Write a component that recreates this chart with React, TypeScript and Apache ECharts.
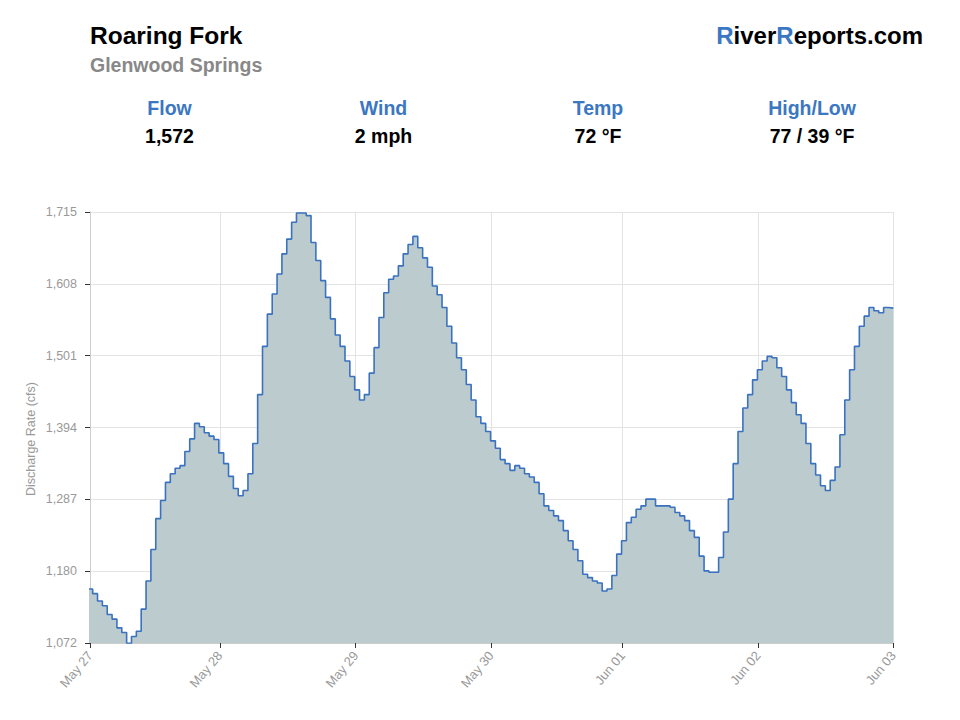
import React, { useEffect, useRef } from "react";
import * as echarts from "echarts";

// Hourly discharge readings (cfs)
const flow: number[] = [
  1153, 1146, 1135, 1128, 1115, 1108, 1095, 1088, 1072, 1082,
  1090, 1123, 1165, 1212, 1258, 1285, 1312, 1325, 1333, 1337,
  1358, 1377, 1400, 1395, 1386, 1381, 1376, 1356, 1340, 1321,
  1303, 1292, 1300, 1325, 1370, 1443, 1515, 1563, 1593, 1623,
  1653, 1675, 1700, 1714, 1714, 1710, 1670, 1643, 1613, 1588,
  1556, 1532, 1515, 1493, 1470, 1450, 1435, 1443, 1475, 1513,
  1558, 1595, 1615, 1620, 1635, 1653, 1667, 1679, 1662, 1647,
  1633, 1605, 1592, 1573, 1545, 1520, 1498, 1480, 1458, 1435,
  1410, 1400, 1388, 1374, 1363, 1346, 1340, 1330, 1337, 1333,
  1325, 1320, 1312, 1295, 1277, 1270, 1262, 1255, 1240, 1225,
  1212, 1195, 1175, 1170, 1165, 1162, 1150, 1153, 1173, 1205,
  1225, 1252, 1260, 1272, 1277, 1287, 1287, 1277, 1277, 1277,
  1275, 1267, 1262, 1255, 1240, 1230, 1202, 1180, 1178, 1178,
  1200, 1238, 1287, 1340, 1388, 1423, 1443, 1465, 1480, 1493,
  1500, 1498, 1483, 1470, 1450, 1431, 1413, 1400, 1370, 1340,
  1323, 1307, 1300, 1315, 1335, 1383, 1435, 1480, 1515, 1545,
  1560, 1573, 1568, 1565, 1573, 1572,
];

// x axis (hours since first reading)
const xMin = 0.45;
const xMax = 166;
const xTicks: number[] = [0.45, 27.2, 55.2, 83.1, 110.2, 138.1, 166];
const xLabels: string[] = ["May 27", "May 28", "May 29", "May 30", "Jun 01", "Jun 02", "Jun 03"];

// y axis
const yMin = 1072.4;
const yMax = 1715.4;
const yTicks: number[] = [1072.4, 1179.57, 1286.73, 1393.9, 1501.07, 1608.23, 1715.4];

// header
const riverName = "Roaring Fork";
const location = "Glenwood Springs";
const statLabels: string[] = ["Flow", "Wind", "Temp", "High/Low"];
const statValues: string[] = ["1,572", "2 mph", "72 °F", "77 / 39 °F"];
const statCenters: number[] = [169.5, 383.5, 598, 812];

const FONT = "'Liberation Sans', Arial, Helvetica, sans-serif";
const BLUE = "#3b77c2";

export default function App() {
  const ref = useRef<HTMLDivElement>(null);

  useEffect(() => {
    if (!ref.current) return;
    const chart = echarts.init(ref.current, undefined, { renderer: "svg" });

    const seriesData: number[][] = flow.map((v, i) => [i, v]);
    seriesData.push([flow.length, flow[flow.length - 1]]);

    const graphics: any[] = [
      {
        type: "text",
        left: 90,
        top: 23,
        style: { text: riverName, font: `bold 24.5px ${FONT}`, fill: "#000" },
      },
      {
        type: "text",
        left: 90,
        top: 55,
        style: { text: location, font: `bold 19.5px ${FONT}`, fill: "#888" },
      },
      {
        type: "text",
        right: 37,
        top: 23,
        style: {
          text: "{b|R}{k|iver}{b|R}{k|eports.com}",
          font: `bold 24px ${FONT}`,
          rich: {
            b: { fill: BLUE, font: `bold 24px ${FONT}` },
            k: { fill: "#000", font: `bold 24px ${FONT}` },
          },
        },
      },
      {
        type: "text",
        x: 31,
        y: 439,
        rotation: Math.PI / 2,
        style: {
          text: "Discharge Rate (cfs)",
          font: `12.5px ${FONT}`,
          fill: "#999",
          align: "center",
          verticalAlign: "middle",
        },
      },
    ];
    statLabels.forEach((lab, i) => {
      graphics.push({
        type: "text",
        x: statCenters[i],
        y: 108,
        style: {
          text: lab,
          font: `bold 19.5px ${FONT}`,
          fill: BLUE,
          align: "center",
          verticalAlign: "middle",
        },
      });
      graphics.push({
        type: "text",
        x: statCenters[i],
        y: 136,
        style: {
          text: statValues[i],
          font: `bold 19.5px ${FONT}`,
          fill: "#000",
          align: "center",
          verticalAlign: "middle",
        },
      });
    });

    chart.setOption({
      animation: false,
      backgroundColor: "#fff",
      graphic: graphics,
      grid: { left: 90, top: 212, width: 803.3, height: 431, containLabel: false },
      xAxis: {
        type: "value",
        min: xMin,
        max: xMax,
        axisLine: { show: true, lineStyle: { color: "#ccc", width: 1 } },
        axisTick: {
          show: true,
          length: 5,
          lineStyle: { color: "#333", width: 1 },
          customValues: xTicks,
        },
        axisLabel: {
          customValues: xTicks,
          rotate: 50,
          margin: 10,
          color: "#999",
          fontSize: 13,
          fontFamily: FONT,
          formatter: (v: number) => {
            const idx = xTicks.findIndex((t) => Math.abs(t - v) < 0.01);
            return idx >= 0 ? xLabels[idx] : "";
          },
        },
        splitLine: { show: true, lineStyle: { color: "#e3e3e3", width: 1 } },
      },
      yAxis: {
        type: "value",
        min: yMin,
        max: yMax,
        axisLine: { show: true, lineStyle: { color: "#ccc", width: 1 } },
        axisTick: {
          show: true,
          length: 5,
          lineStyle: { color: "#333", width: 1 },
          customValues: yTicks,
        },
        axisLabel: {
          customValues: yTicks,
          margin: 13,
          color: "#999",
          fontSize: 12.5,
          fontFamily: FONT,
          formatter: (v: number) => Math.round(v).toLocaleString("en-US"),
        },
        splitLine: { show: true, lineStyle: { color: "#e3e3e3", width: 1 } },
      },
      series: [
        {
          type: "line",
          step: "end",
          data: seriesData,
          symbol: "none",
          clip: true,
          lineStyle: { color: "#3a72c0", width: 1.6 },
          areaStyle: { color: "#bccbce", opacity: 1, origin: "start" },
          z: 2,
        },
      ],
    });

    return () => chart.dispose();
  }, []);

  return (
    <div
      ref={ref}
      style={{ position: "absolute", left: 0, top: 0, width: 960, height: 720 }}
    />
  );
}
